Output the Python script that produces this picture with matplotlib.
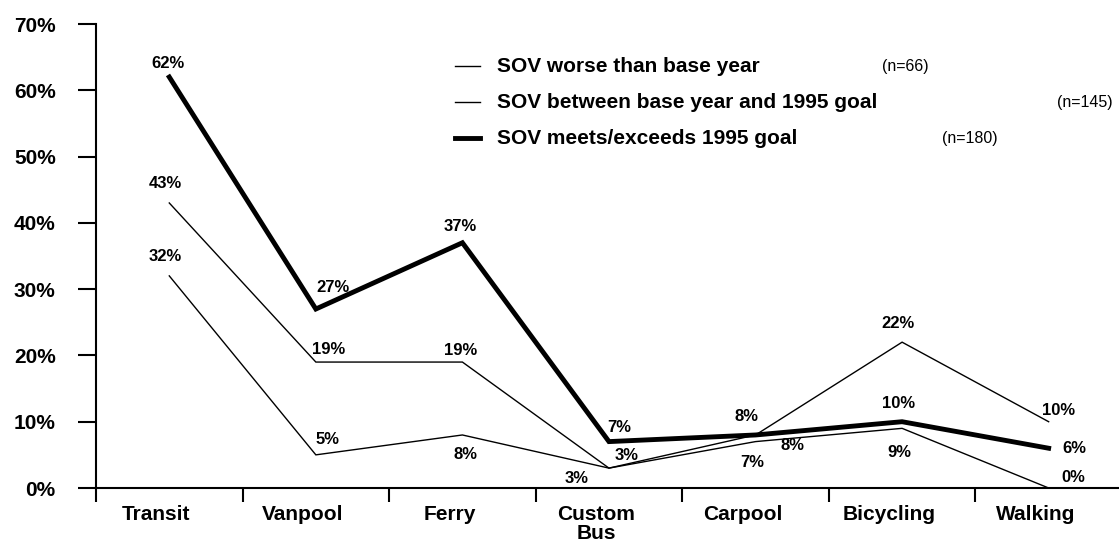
import matplotlib
matplotlib.use("Agg")
import matplotlib.pyplot as plt
from matplotlib.lines import Line2D
from matplotlib.transforms import ScaledTranslation

# dados
categories = ["Transit", "Vanpool", "Ferry", "Custom\nBus", "Carpool", "Bicycling", "Walking"]
worse = [32, 5, 8, 3, 7, 9, 0]
between = [43, 19, 19, 3, 8, 22, 10]
meets = [62, 27, 37, 7, 8, 10, 6]
series_names = ["SOV worse than base year",
                "SOV between base year and 1995 goal",
                "SOV meets/exceeds 1995 goal"]
sample_sizes = ["(n=66)", "(n=145)", "(n=180)"]
yticks = [0, 10, 20, 30, 40, 50, 60, 70]

plt.rcParams['font.family'] = ['Liberation Sans', 'DejaVu Sans']

W, H = 1119, 546
fig = plt.figure(figsize=(W / 100, H / 100), dpi=100)
ax = fig.add_axes([96 / W, 1 - 488 / H, 1 - 96 / W, (488 - 24) / H])

xs = list(range(len(categories)))

# deslocamento dos rótulos (pixels), um por ponto
offsets = {
    "worse": [(-4, 19), (12, 15), (3, -20), (-32, -10), (-3, -21), (-3, -24), (25, 11)],
    "between": [(-4, 19), (13, 13), (-2, 12), (18, 13), (-9, 18), (-4, 19), (10, 11)],
    "meets": [(-1, 14), (17, 22), (-2, 16), (10, 14), (37, -11), (-4, 18), (26, 0)],
}

series = [("worse", worse, 1.0), ("between", between, 1.0), ("meets", meets, 3.5)]
for key, vals, lw in series:
    ax.plot(xs, vals, color='black', lw=lw, solid_joinstyle='miter')
    for x, v, (dx, dy) in zip(xs, vals, offsets[key]):
        ax.annotate(f"{v}%", (x, v), xytext=(dx, dy), textcoords='offset pixels',
                    ha='center', va='center', fontsize=12, fontweight='bold')

ax.set_xlim(-0.5, 6.48)
ax.set_ylim(0, 70)

for s in ['top', 'right']:
    ax.spines[s].set_visible(False)
for s in ['left', 'bottom']:
    ax.spines[s].set_linewidth(1.5)

ax.set_yticks(yticks)
ax.set_yticklabels([f"{t}%" for t in yticks], fontsize=15, fontweight='bold')
ax.tick_params(axis='y', direction='out', length=13, width=1.5, pad=16)

ax.set_xticks(xs)
ax.set_xticklabels(categories, fontsize=15, fontweight='bold', linespacing=1.0)
ax.set_xticks([x - 0.5 for x in xs], minor=True)
ax.tick_params(axis='x', which='major', length=0, pad=12)
ax.tick_params(axis='x', which='minor', direction='out', length=10, width=1.5)
shift = ScaledTranslation(-13 / 100, 0, fig.dpi_scale_trans)
for lab in ax.get_xticklabels():
    lab.set_transform(lab.get_transform() + shift)

# legenda feita à mão
rows_y = [66, 102, 138]
n_x = [882, 1057, 942]
for (key, vals, lw), name, n, ry, nx in zip(series, series_names, sample_sizes, rows_y, n_x):
    fig.add_artist(Line2D([455 / W, 480 / W], [1 - ry / H, 1 - ry / H], color='black', lw=lw))
    fig.text(497 / W, 1 - ry / H, name, fontsize=15, fontweight='bold', va='center')
    fig.text(nx / W, 1 - ry / H, n, fontsize=11.5, va='center')

fig.savefig("out.png", dpi=100)
